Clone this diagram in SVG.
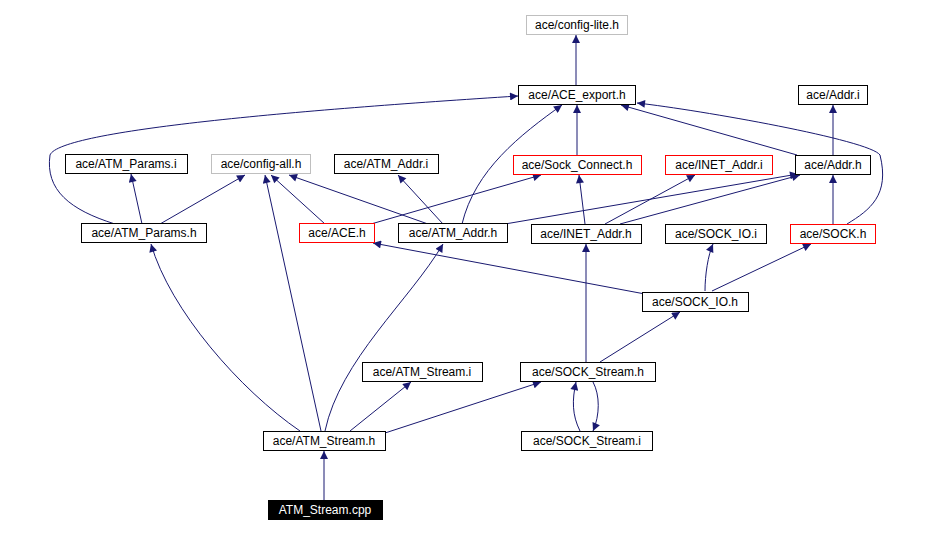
<svg xmlns="http://www.w3.org/2000/svg" width="934" height="534" viewBox="0 0 934 534">
<style>
.n rect{fill:#fff;stroke:#000;stroke-width:1}
.g rect{stroke:#bfbfbf}
.r rect{stroke:#ff0000}
text{font-family:"Liberation Sans",Arial,sans-serif;font-size:12px;text-anchor:middle;fill:#000}
#edges path{fill:none;stroke:#191970;stroke-width:1;marker-end:url(#a)}
</style>
<defs><marker id="a" viewBox="0 0 10 10" refX="10" refY="5" markerWidth="10" markerHeight="8" markerUnits="userSpaceOnUse" orient="auto"><path d="M0,0L10,5L0,10z" fill="#191970"/></marker></defs>
<rect width="934" height="534" fill="#fff"/>
<g id="edges">
<path d="M576,85L576,35"/>
<path d="M577,155L577,105"/>
<path d="M797,155L621,105"/>
<path d="M847,224C870,210 890,195 880,155C870,140 700,110 637,103"/>
<path d="M462,224C475,170 520,135 562,105"/>
<path d="M115,224C70,210 45,190 50,155C60,130 300,110 518,96"/>
<path d="M833,155L833,105"/>
<path d="M833,224L833,175"/>
<path d="M371,224L541,175"/>
<path d="M585,224L579,175"/>
<path d="M605,224L695,175"/>
<path d="M620,224L800,175"/>
<path d="M505,224L798,174"/>
<path d="M142,224L131,174"/>
<path d="M160,224L245,175"/>
<path d="M325,224L271,175"/>
<path d="M428,224L289,175"/>
<path d="M443,224L398,175"/>
<path d="M321,431L265,175"/>
<path d="M645,294L373,243"/>
<path d="M705,291C705,275 708,255 713,244"/>
<path d="M712,291L811,244"/>
<path d="M600,362L680,312"/>
<path d="M586,362L586,244"/>
<path d="M300,431C240,390 170,310 151,244"/>
<path d="M325,431C340,360 410,300 443,244"/>
<path d="M350,431L411,382"/>
<path d="M385,433L541,382"/>
<path d="M580,431C572,415 572,400 576,382"/>
<path d="M593,382C600,395 600,415 593,431"/>
<path d="M324,500L324,451"/>
</g>
<g id="n1" class="n g"><rect x="526.5" y="15.5" width="101" height="19"/><text x="577" y="29">ace/config-lite.h</text></g>
<g id="n2" class="n"><rect x="518.5" y="85.5" width="117" height="19"/><text x="577" y="99">ace/ACE_export.h</text></g>
<g id="n3" class="n"><rect x="798.5" y="85.5" width="69" height="19"/><text x="833" y="99">ace/Addr.i</text></g>
<g id="n4" class="n r"><rect x="513.5" y="155.5" width="128" height="19"/><text x="577" y="169">ace/Sock_Connect.h</text></g>
<g id="n5" class="n r"><rect x="665.5" y="155.5" width="107" height="19"/><text x="719" y="169">ace/INET_Addr.i</text></g>
<g id="n6" class="n"><rect x="795.5" y="155.5" width="75" height="19"/><text x="833" y="169">ace/Addr.h</text></g>
<g id="n7" class="n"><rect x="65.5" y="154.5" width="122" height="19"/><text x="126" y="168">ace/ATM_Params.i</text></g>
<g id="n8" class="n g"><rect x="211.5" y="154.5" width="99" height="19"/><text x="261" y="168">ace/config-all.h</text></g>
<g id="n9" class="n"><rect x="334.5" y="154.5" width="104" height="19"/><text x="386" y="168">ace/ATM_Addr.i</text></g>
<g id="n10" class="n"><rect x="81.5" y="223.5" width="125" height="19"/><text x="144" y="237">ace/ATM_Params.h</text></g>
<g id="n11" class="n r"><rect x="299.5" y="223.5" width="75" height="19"/><text x="337" y="237">ace/ACE.h</text></g>
<g id="n12" class="n"><rect x="398.5" y="223.5" width="109" height="19"/><text x="453" y="237">ace/ATM_Addr.h</text></g>
<g id="n13" class="n"><rect x="531.5" y="224.5" width="110" height="19"/><text x="586" y="238">ace/INET_Addr.h</text></g>
<g id="n14" class="n"><rect x="665.5" y="224.5" width="101" height="19"/><text x="716" y="238">ace/SOCK_IO.i</text></g>
<g id="n15" class="n r"><rect x="790.5" y="224.5" width="85" height="19"/><text x="833" y="238">ace/SOCK.h</text></g>
<g id="n16" class="n"><rect x="642.5" y="292.5" width="106" height="19"/><text x="695" y="306">ace/SOCK_IO.h</text></g>
<g id="n17" class="n"><rect x="362.5" y="362.5" width="120" height="19"/><text x="422" y="376">ace/ATM_Stream.i</text></g>
<g id="n18" class="n"><rect x="520.5" y="362.5" width="135" height="19"/><text x="588" y="376">ace/SOCK_Stream.h</text></g>
<g id="n19" class="n"><rect x="263.5" y="431.5" width="122" height="19"/><text x="324" y="445">ace/ATM_Stream.h</text></g>
<g id="n20" class="n"><rect x="521.5" y="431.5" width="131" height="19"/><text x="587" y="445">ace/SOCK_Stream.i</text></g>
<g id="n21"><rect x="268.5" y="500.5" width="114" height="19" fill="#000" stroke="#000"/><text x="325" y="514" style="fill:#fff">ATM_Stream.cpp</text></g>
</svg>
